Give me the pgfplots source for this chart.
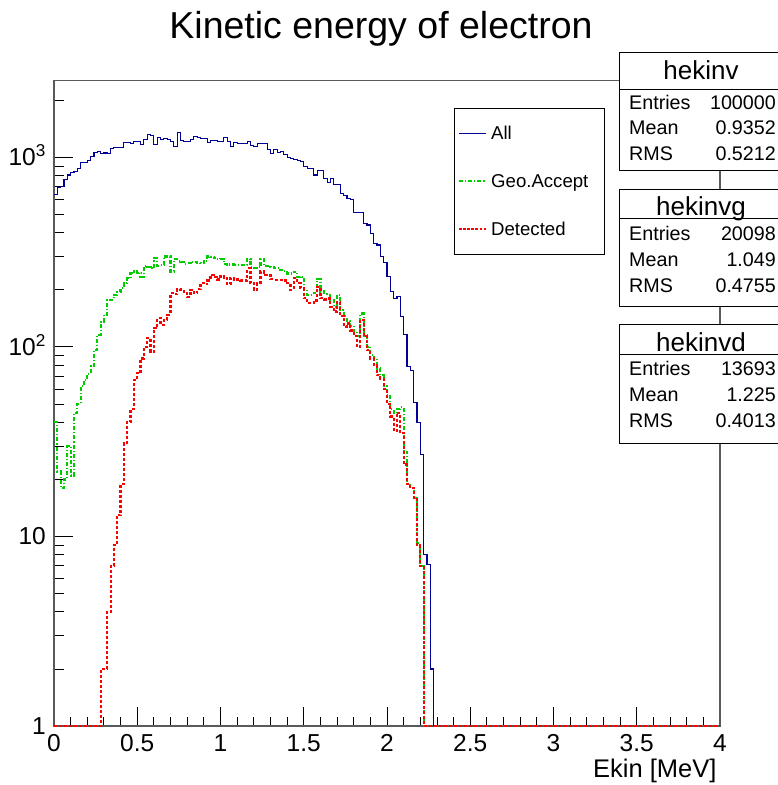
\documentclass[border=0pt]{standalone}
\usepackage{fontspec}
\setmainfont{Liberation Sans}
\usepackage{pgfplots}
\pgfplotsset{compat=1.18}
\usepackage{pgfplotstable}
\definecolor{hblue}{RGB}{0,0,153}
\definecolor{hgreen}{RGB}{0,205,0}
\definecolor{hred}{RGB}{255,0,0}

% All (bin left edge, content); zero bins shown at the log floor 1
\pgfplotstableread{
x y
0.00 634
0.02 696
0.04 700
0.06 761
0.08 808
0.10 832
0.12 840
0.14 877
0.16 939
0.18 945
0.20 962
0.22 1010
0.24 1061
0.26 1073
0.28 1052
0.30 1055
0.32 1052
0.34 1118
0.36 1127
0.38 1125
0.40 1130
0.42 1198
0.44 1202
0.46 1178
0.48 1213
0.50 1210
0.52 1174
0.54 1237
0.56 1325
0.58 1303
0.60 1174
0.62 1273
0.64 1237
0.66 1265
0.68 1237
0.70 1213
0.72 1141
0.74 1358
0.76 1227
0.78 1213
0.80 1213
0.82 1237
0.84 1288
0.86 1279
0.88 1265
0.90 1265
0.92 1202
0.94 1227
0.96 1227
0.98 1213
1.00 1213
1.02 1273
1.04 1213
1.06 1141
1.08 1202
1.10 1178
1.12 1190
1.14 1190
1.16 1213
1.18 1154
1.20 1141
1.22 1180
1.24 1180
1.26 1180
1.28 1096
1.30 1052
1.32 1096
1.34 1060
1.36 1080
1.38 1035
1.40 1002
1.42 990
1.44 970
1.46 965
1.48 950
1.50 895
1.52 877
1.54 877
1.56 808
1.58 850
1.60 850
1.62 777
1.64 740
1.66 777
1.68 716
1.70 716
1.72 647
1.74 628
1.76 610
1.78 597
1.80 511
1.82 511
1.84 511
1.86 449
1.88 440
1.90 398
1.92 350
1.94 345
1.96 300
1.98 279
2.00 235
2.02 196
2.04 181
2.06 184
2.08 145
2.10 116
2.12 79
2.14 75
2.16 51
2.18 40
2.20 27
2.22 8
2.24 7.1
2.26 2
2.28 1
}\tblall

% Geo.Accept
\pgfplotstableread{
x y
0.00 40
0.02 22
0.04 18
0.06 20
0.08 30
0.10 21
0.12 45
0.14 50
0.16 62
0.18 67
0.20 72
0.22 79
0.24 96
0.26 116
0.28 136
0.30 148
0.32 177
0.34 177
0.36 188
0.38 195
0.40 204
0.42 217
0.44 230
0.46 245
0.48 250
0.50 245
0.52 235
0.54 268
0.56 265
0.58 260
0.60 294
0.62 268
0.64 270
0.66 300
0.68 300
0.70 250
0.72 290
0.74 285
0.76 280
0.78 275
0.80 276
0.82 282
0.84 280
0.86 278
0.88 276
0.90 285
0.92 300
0.94 298
0.96 294
0.98 290
1.00 292
1.02 275
1.04 272
1.06 272
1.08 270
1.10 270
1.12 270
1.14 270
1.16 292
1.18 264
1.20 262
1.22 264
1.24 292
1.26 268
1.28 268
1.30 265
1.32 262
1.34 260
1.36 254
1.38 252
1.40 244
1.42 244
1.44 249
1.46 234
1.48 235
1.50 200
1.52 188
1.54 188
1.56 193
1.58 228
1.60 196
1.62 192
1.64 188
1.66 177
1.68 163
1.70 188
1.72 157
1.74 145
1.76 137
1.78 129
1.80 120
1.82 114
1.84 150
1.86 115
1.88 100
1.90 91
1.92 87
1.94 77
1.96 71
1.98 62
2.00 56
2.02 47
2.04 45
2.06 47
2.08 48
2.10 28
2.12 19
2.14 18
2.16 16
2.18 9.2
2.20 7
2.22 1
}\tblgeo

% Detected
\pgfplotstableread{
x y
0.00 1
0.28 2
0.30 2
0.32 4
0.34 7
0.36 9
0.38 13
0.40 19
0.42 31
0.44 40
0.46 47
0.48 67
0.50 73
0.52 87
0.54 100
0.56 111
0.58 94
0.60 126
0.62 142
0.64 131
0.66 139
0.68 148
0.70 192
0.72 190
0.74 202
0.76 200
0.78 192
0.80 184
0.82 200
0.84 192
0.86 202
0.88 217
0.90 214
0.92 224
0.94 240
0.96 235
0.98 227
1.00 237
1.02 232
1.04 214
1.06 232
1.08 227
1.10 227
1.12 224
1.14 224
1.16 260
1.18 217
1.20 200
1.22 217
1.24 250
1.26 240
1.28 240
1.30 228
1.32 226
1.34 226
1.36 226
1.38 224
1.40 217
1.42 200
1.44 230
1.46 217
1.48 205
1.50 181
1.52 170
1.54 170
1.56 176
1.58 208
1.60 181
1.62 178
1.64 180
1.66 163
1.68 154
1.70 173
1.72 145
1.74 128
1.76 133
1.78 122
1.80 114
1.82 100
1.84 139
1.86 114
1.88 96
1.90 87
1.92 80
1.94 71
1.96 68
1.98 60
2.00 50
2.02 43
2.04 36
2.06 45
2.08 35
2.10 24
2.12 19
2.14 18
2.16 16
2.18 9
2.20 7
2.22 1
4.00 1
}\tbldet

\begin{document}
\begin{tikzpicture}[x=1pt,y=1pt]
\useasboundingbox (0,0) rectangle (777,785);
\begin{axis}[
  at={(54pt,59pt)}, anchor=south west,
  scale only axis, width=666pt, height=645.3pt,
  xmin=0, xmax=4, ymode=log, ymin=1, ymax=2540,
  clip=false,
  axis line style={black!65, line width=1.2pt},
  tick pos=left, tick align=inside,
  major tick length=19pt, minor tick length=9.5pt,
  major tick style={black, line width=0.9pt},
  minor tick style={black, line width=0.9pt},
  xtick={0,0.5,1,1.5,2,2.5,3,3.5,4}, minor x tick num=4,
  xticklabels={0,0.5,1,1.5,2,2.5,3,3.5,4},
  ytick={1,10,100,1000},
  yticklabels={1,10,10\textsuperscript{2},10\textsuperscript{3}},
  minor ytick={2,3,4,5,6,7,8,9,20,30,40,50,60,70,80,90,200,300,400,500,600,700,800,900,2000},
  tick label style={font=\fontsize{24.5}{24.5}\selectfont},
  xticklabel style={anchor=base, inner sep=0pt, yshift=-25.7pt},
  yticklabel style={anchor=base east, inner sep=0pt, xshift=-8pt, yshift=-8.5pt},
]
\addplot[const plot mark left, color=hblue, line width=1.1pt] table {\tblall};
\addplot[const plot mark left, color=hgreen, line width=2.2pt, dash pattern=on 4pt off 2pt on 1.2pt off 2pt] table {\tblgeo};
\addplot[const plot mark left, color=hred, line width=2.2pt, dash pattern=on 3pt off 2pt] table {\tbldet};
\end{axis}

% title and axis title
\node[anchor=base, font=\fontsize{37.5}{37.5}\selectfont] at (381,746.5) {Kinetic energy of electron};
\node[anchor=base east, font=\fontsize{25.5}{25.5}\selectfont] at (720,7.7) {Ekin [MeV]};

% legend
\draw[black, line width=1pt, fill=white] (454,676) rectangle (604,530);
\draw[hblue, line width=1pt] (459,651.7) -- (486,651.7);
\draw[hgreen, line width=1.6pt, dash pattern=on 4pt off 2pt on 1.2pt off 2pt] (459,604) -- (486,604);
\draw[hred, line width=2pt, dash pattern=on 2.5pt off 1.6pt] (459,555.7) -- (486,555.7);
\begin{scope}[every node/.style={anchor=base west, inner sep=0pt, font=\fontsize{18.6}{18.6}\selectfont}]
\node at (491,645) {All};
\node at (491,597.5) {Geo.Accept};
\node at (491,549) {Detected};
\end{scope}

% statistics boxes
\begin{scope}[every node/.style={inner sep=0pt, font=\fontsize{19.7}{19.7}\selectfont}]
\draw[black, line width=1pt, fill=white] (619.3,614.3) rectangle (800,732.3);
\draw[black, line width=1pt] (619.3,695) -- (800,695);
\node[anchor=base, font=\fontsize{26}{26}\selectfont] at (701,705.7) {hekinv};
\node[anchor=base west] at (629,675.9) {Entries};
\node[anchor=base east] at (776,675.9) {100000};
\node[anchor=base west] at (629,650.9) {Mean};
\node[anchor=base east] at (776,650.9) {0.9352};
\node[anchor=base west] at (629,624.9) {RMS};
\node[anchor=base east] at (776,624.9) {0.5212};

\draw[black, line width=1pt, fill=white] (619.3,478.3) rectangle (800,595.7);
\draw[black, line width=1pt] (619.3,566.7) -- (800,566.7);
\node[anchor=base, font=\fontsize{26}{26}\selectfont] at (701,569.7) {hekinvg};
\node[anchor=base west] at (629,544.9) {Entries};
\node[anchor=base east] at (776,544.9) {20098};
\node[anchor=base west] at (629,518.2) {Mean};
\node[anchor=base east] at (776,518.2) {1.049};
\node[anchor=base west] at (629,492.6) {RMS};
\node[anchor=base east] at (776,492.6) {0.4755};

\draw[black, line width=1pt, fill=white] (619.3,341.7) rectangle (800,460.7);
\draw[black, line width=1pt] (619.3,430) -- (800,430);
\node[anchor=base, font=\fontsize{26}{26}\selectfont] at (701,433.7) {hekinvd};
\node[anchor=base west] at (629,409.2) {Entries};
\node[anchor=base east] at (776,409.2) {13693};
\node[anchor=base west] at (629,383.2) {Mean};
\node[anchor=base east] at (776,383.2) {1.225};
\node[anchor=base west] at (629,357.6) {RMS};
\node[anchor=base east] at (776,357.6) {0.4013};
\end{scope}
\end{tikzpicture}
\end{document}
